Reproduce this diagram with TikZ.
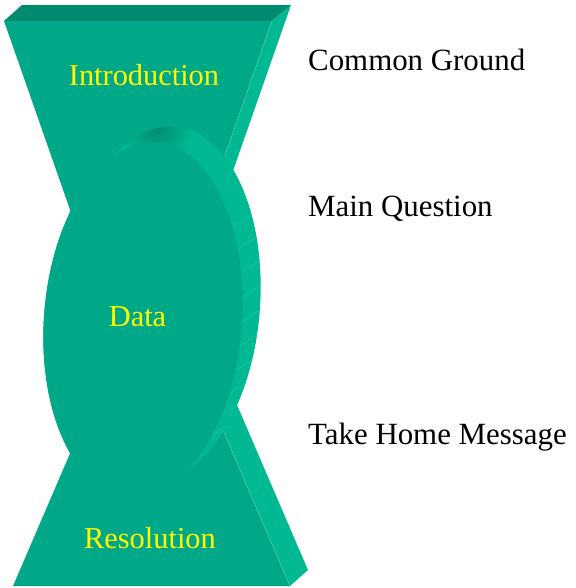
\documentclass[tikz,border=0pt]{standalone}
\usepackage{fontspec}
\setmainfont{Liberation Serif}
\definecolor{frontc}{RGB}{0,168,136}
\definecolor{topc}{RGB}{0,138,110}
\definecolor{sidec}{RGB}{0,184,146}
\definecolor{hatchc}{RGB}{80,205,175}
\definecolor{labc}{RGB}{255,255,0}
\tikzset{
  front/.style={fill=frontc},
  topface/.style={fill=topc},
  sideface/.style={fill=sidec},
  inlabel/.style={text=labc, inner sep=0pt, anchor=base, font=\fontsize{30.5}{36}\selectfont},
  outlabel/.style={text=black, inner sep=0pt, anchor=base west, font=\fontsize{31}{36}\selectfont},
  edgehl/.style={draw=hatchc, line width=0.5bp},
  disc/.style={x radius=99, y radius=178, rotate=-4.5}
}
\begin{document}
\begin{tikzpicture}[x=1bp,y=-1bp]
\useasboundingbox (0,0) rectangle (576,588);
% top trapezoid
\coordinate (tl) at (4,21);
\coordinate (tr) at (272,21);
\coordinate (ta) at (138,404);
\coordinate (tlb) at (22,5);
\coordinate (trb) at (291,5);
\coordinate (tab) at (157,388);
\fill[topface] (tl) -- (tlb) -- (trb) -- (tr) -- cycle;
\fill[sideface] (tr) -- (trb) -- (tab) -- (ta) -- cycle;
\fill[front] (tl) -- (tr) -- (ta) -- cycle;
\draw[edgehl] (tr) -- (ta);
% bottom triangle
\coordinate (bl) at (13,586);
\coordinate (br) at (290,586);
\coordinate (ba) at (151.5,264);
\coordinate (brb) at (308,570);
\coordinate (bab) at (169.5,248);
\fill[sideface] (br) -- (brb) -- (bab) -- (ba) -- cycle;
\fill[front] (bl) -- (br) -- (ba) -- cycle;
\draw[edgehl] (br) -- (ba);
% disc rim
\begin{scope}
  \clip foreach \t in {0,0.05,...,1.01} {(143+18*\t,320-16*\t) circle [disc]};
  \fill[sidec] (0,0) rectangle (576,588);
  \shade[inner color=topc, outer color=sidec] (155,126) circle [radius=38];
  \begin{scope}[shift={(143,320)}, rotate=-4.5]
    \foreach \p in {-34,-26,...,40} {
      \draw[hatchc!60!sidec, line width=0.35bp] (\p:99 and 178) -- ++(19.2,-14.5);
    }
  \end{scope}
\end{scope}
% front disc
\fill[front] (143,320) circle [disc];
% labels
\node[inlabel] (intro) at (144,86) {Introduction};
\node[inlabel] (data) at (137.5,326) {Data};
\node[inlabel] (res) at (150,548) {Resolution};
\node[outlabel] (cg) at (308,71) {Common Ground};
\node[outlabel] (mq) at (308,216) {Main Question};
\node[outlabel] (thm) at (308,444) {Take Home Message};
\end{tikzpicture}
\end{document}
